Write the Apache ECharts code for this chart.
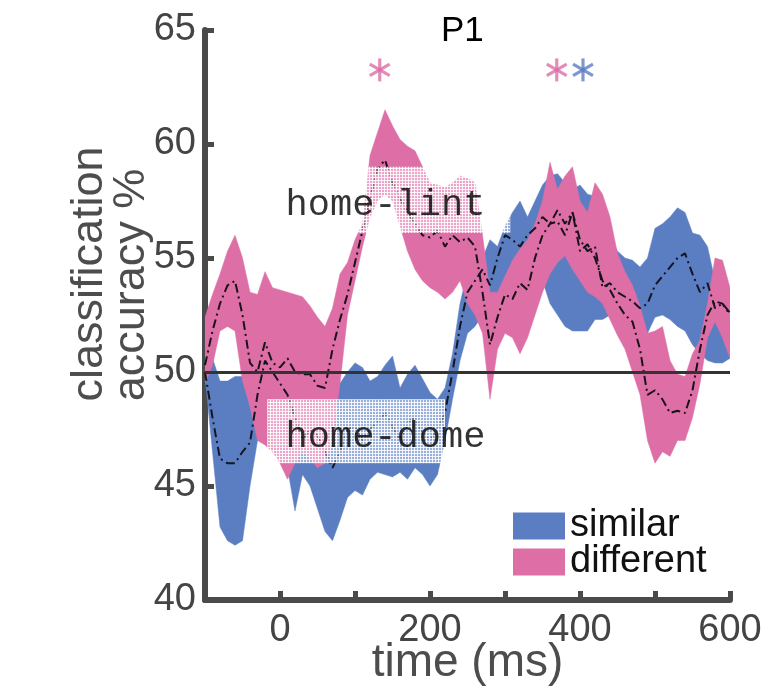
<!DOCTYPE html>
<html>
<head>
<meta charset="utf-8">
<script src="https://cdn.jsdelivr.net/npm/echarts/dist/echarts.min.js"></script>
<style>
html,body{margin:0;padding:0;background:#ffffff;}
#chart{width:766px;height:695px;}
</style>
</head>
<body>
<div id="chart"></div>
<script>
// ---------------- data ----------------
const times = [-100,-90,-80,-70,-60,-50,-40,-30,-20,-10,0,10,20,30,40,50,60,70,80,90,
  100,110,120,130,140,150,160,170,180,190,200,210,220,230,240,250,260,270,280,290,
  300,310,320,330,340,350,360,370,380,390,400,410,420,430,440,450,460,470,480,490,
  500,510,520,530,540,550,560,570,580,590,600];

// "different" (pink) band and mean
const diffHigh = [52.4,53.4,54.3,55.3,56.0,55.0,53.5,53.4,54.4,53.7,53.6,53.5,53.4,53.3,52.9,52.4,52.0,52.8,54.3,54.8,
  55.8,56.5,59.5,60.5,61.5,60.8,60.2,59.9,59.7,59.0,58.3,58.2,58.1,58.3,58.6,58.5,58.3,56.0,53.5,53.5,
  54.2,54.9,55.4,55.8,56.5,57.5,59.2,58.0,58.6,59.0,57.5,57.0,58.3,57.8,56.8,55.2,54.4,53.8,52.9,51.7,
  51.8,52.0,50.5,49.9,49.8,50.8,51.4,53.0,55.0,54.9,53.7];
const diffLow = [49.5,50.3,51.8,52.0,51.8,49.6,48.5,47.0,46.8,46.5,46.0,45.3,46.0,46.5,46.2,45.8,46.0,47.0,49.5,52.5,
  54.0,55.5,56.8,57.5,57.8,57.5,56.4,55.3,54.5,54.0,53.7,53.5,53.2,53.5,54.0,53.0,52.5,51.7,48.8,51.0,
  51.7,51.5,50.8,51.5,52.5,53.5,54.3,54.8,55.1,54.5,54.0,53.5,53.3,53.0,52.3,51.6,51.0,50.0,49.0,47.0,
  46.0,46.5,46.3,47.0,47.0,48.0,49.5,51.5,52.2,51.5,50.6];
const diffMean = [50.3,51.8,53.0,53.8,54.0,52.5,50.4,50.0,51.3,50.4,50.2,50.6,50.0,49.9,49.9,49.4,49.3,51.0,52.3,53.4,
  54.8,56.2,57.6,58.9,59.3,58.3,57.6,57.0,56.5,56.0,55.9,56.2,55.5,56.0,55.7,55.9,55.5,53.5,51.2,52.4,
  53.4,53.2,53.9,53.6,55.0,56.0,56.5,56.6,56.0,57.0,55.3,55.6,55.0,54.0,53.6,53.0,52.5,52.2,51.0,49.0,
  49.2,48.8,48.2,48.3,48.2,49.2,51.0,52.5,53.1,53.0,52.5];

// "similar" (blue) band and mean
const simHigh = [50.3,50.6,49.6,49.6,49.8,49.8,48.5,50.0,51.5,51.5,51.0,50.5,49.5,48.8,48.5,48.8,48.5,48.8,49.5,50.0,
  50.4,50.2,49.6,49.8,50.3,50.7,49.3,49.9,50.3,49.7,49.1,48.8,49.3,50.8,53.0,54.4,55.2,55.0,55.8,55.5,
  56.4,57.0,57.5,56.8,57.5,58.2,58.6,58.7,58.3,58.0,58.2,57.8,57.7,57.0,55.8,55.3,55.0,54.9,54.6,55.0,
  56.3,56.5,56.8,57.2,57.0,56.1,56.0,55.5,54.0,53.8,53.5];
const simLow = [49.8,46.5,43.2,42.6,42.4,42.6,45.0,47.0,47.0,46.8,46.5,45.8,43.9,45.5,45.0,44.0,43.0,42.6,43.5,44.5,
  44.8,44.6,45.3,45.6,45.5,45.4,45.6,45.3,45.8,45.5,45.0,45.5,47.0,48.8,50.5,51.7,52.0,52.5,53.0,53.3,
  53.0,53.5,54.0,54.5,54.0,54.0,53.0,52.5,52.0,51.8,51.8,51.8,52.3,52.3,52.5,52.0,51.8,52.2,51.7,51.7,
  52.4,52.5,52.3,52.0,51.8,51.2,50.8,50.5,50.4,50.4,50.6];
const simMean = [50.0,48.0,46.2,46.0,46.0,46.5,46.9,49.0,50.5,50.0,49.5,49.0,48.0,47.0,47.5,47.2,46.5,45.8,46.5,47.5,
  47.6,47.0,47.5,47.8,48.2,47.6,47.0,47.8,48.0,47.3,47.0,47.5,48.2,50.0,52.0,53.5,54.0,54.5,53.8,55.0,
  56.0,55.8,55.5,56.0,56.3,56.8,56.5,57.1,56.5,57.0,55.8,55.3,55.5,53.7,53.9,53.5,53.3,53.1,52.8,53.0,
  53.8,54.2,54.6,55.0,55.2,54.3,53.5,53.9,52.8,53.0,52.6];

// axis ticks / labels
const xMin = -100, xMax = 600, xStep = 100, xLabelStep = 200;
const yMin = 40, yMax = 65, yStep = 5;
const chanceLevel = 50;

// significance asterisks
const sigTimes  = [133, 369, 404];
const sigHeight = [63.25, 63.25, 63.25];
const sigGroup  = ['different', 'different', 'similar'];

// annotation boxes (data coordinates) and their labels
const boxNames = ['home-lint', 'home-dome'];
const boxX0 = [3, -17];
const boxX1 = [307, 220];
const boxY0 = [56.1, 46.0];
const boxY1 = [59.0, 48.8];
const boxTextX = [6.7, 6.7];
const boxTextY = [57.3, 47.15];

// ---------------- styling ----------------
const BLUE = '#5b7ec3';
const PINK = '#dd6fa6';
const AXIS = '#4a4a4a';
const FONT = "'Liberation Sans', Arial, Helvetica, sans-serif";
const MONO = "'Liberation Mono', 'DejaVu Sans Mono', monospace";

function zip(arr) { return times.map((t, i) => [t, arr[i]]); }

// dotted overlay pattern for the annotation boxes
const pat = document.createElement('canvas');
pat.width = 3; pat.height = 3;
const pc = pat.getContext('2d');
pc.fillStyle = 'rgba(255,255,255,0.38)';
pc.fillRect(0, 0, 3, 3);
pc.fillStyle = 'rgba(255,255,255,0.85)';
pc.fillRect(0, 0, 3, 1);
pc.fillRect(0, 0, 1, 3);

function bandSeries(name, low, high, color, z) {
  return {
    name: name, type: 'custom', z: z, silent: true, clip: true,
    color: color, itemStyle: { color: color },
    data: times.map((t, i) => [t, low[i], high[i]]),
    encode: { x: 0, y: [1, 2] },
    renderItem: function (params, api) {
      if (params.dataIndex !== 0) return null;
      const upper = [], lower = [];
      for (let i = 0; i < times.length; i++) {
        upper.push(api.coord([times[i], high[i]]));
        lower.push(api.coord([times[i], low[i]]));
      }
      return {
        type: 'polygon',
        shape: { points: upper.concat(lower.reverse()) },
        style: { fill: color, stroke: color, lineWidth: 0.5 }
      };
    }
  };
}

const sigData = [];
sigTimes.forEach((t, i) => {
  [0, 60, -60].forEach(r => {
    sigData.push({
      value: [t, sigHeight[i]],
      symbolRotate: r,
      itemStyle: { color: sigGroup[i] === 'similar' ? BLUE : PINK }
    });
  });
});

const chart = echarts.init(document.getElementById('chart'), null, { renderer: 'canvas' });

const option = {
  animation: false,
  backgroundColor: '#ffffff',
  title: {
    text: 'P1', left: 441, top: 14, padding: 0,
    textStyle: { fontFamily: FONT, fontSize: 35, fontWeight: 'normal', color: '#000' }
  },
  legend: {
    orient: 'vertical', left: 513, top: 507, padding: 0,
    itemWidth: 52, itemHeight: 27, itemGap: -2,
    icon: 'rect',
    data: [
      { name: 'similar', icon: 'rect', itemStyle: { color: BLUE, opacity: 1 } },
      { name: 'different', icon: 'rect', itemStyle: { color: PINK, opacity: 1 } }
    ],
    textStyle: { fontFamily: FONT, fontSize: 38, color: '#111', lineHeight: 27 },
    selectedMode: false
  },
  grid: { left: 205, right: 36, top: 30, bottom: 95, containLabel: false, outerBoundsMode: 'none' },
  xAxis: {
    type: 'value', min: xMin, max: xMax, interval: xStep,
    name: 'time (ms)', nameLocation: 'middle', nameGap: 40, nameMoveOverlap: false,
    nameTextStyle: { fontFamily: FONT, fontSize: 46, color: '#4d4d4d' },
    axisLine: { show: true, onZero: false, lineStyle: { color: AXIS, width: 6 } },
    axisTick: { show: true, inside: true, length: 9, lineStyle: { color: AXIS, width: 5 } },
    axisLabel: {
      fontFamily: FONT, fontSize: 38, color: '#444', margin: 12,
      formatter: v => (v % xLabelStep === 0 ? String(v) : '')
    },
    splitLine: { show: false }
  },
  yAxis: {
    type: 'value', min: yMin, max: yMax, interval: yStep,
    axisLine: { show: true, onZero: false, lineStyle: { color: AXIS, width: 6 } },
    axisTick: { show: true, inside: true, length: 9, lineStyle: { color: AXIS, width: 5 } },
    axisLabel: { fontFamily: FONT, fontSize: 38, color: '#444', margin: 9 },
    splitLine: { show: false }
  },
  graphic: [
    { type: 'text', x: 90, y: 274, rotation: Math.PI / 2, silent: true,
      style: { text: 'classification', font: "45px 'Liberation Sans', Arial, sans-serif",
        fill: '#4d4d4d', align: 'center', verticalAlign: 'middle' } },
    { type: 'text', x: 132, y: 285, rotation: Math.PI / 2, silent: true,
      style: { text: 'accuracy %', font: "45px 'Liberation Sans', Arial, sans-serif",
        fill: '#4d4d4d', align: 'center', verticalAlign: 'middle' } }
  ],
  series: [
    bandSeries('similar', simLow, simHigh, BLUE, 2),
    bandSeries('different', diffLow, diffHigh, PINK, 3),
    // means
    { name: 'simMean', type: 'line', data: zip(simMean), symbol: 'none', z: 4, silent: true,
      lineStyle: { color: '#15151f', width: 2, type: [9, 4, 2, 4] } },
    { name: 'diffMean', type: 'line', data: zip(diffMean), symbol: 'none', z: 4, silent: true,
      lineStyle: { color: '#1a1018', width: 2, type: [9, 4, 2, 4] },
      markLine: {
        silent: true, symbol: 'none', z: 5, animation: false,
        label: { show: false },
        lineStyle: { color: '#333', width: 3, type: 'solid' },
        data: [{ yAxis: chanceLevel }]
      } },
    // annotation boxes + labels
    { name: 'labels', type: 'scatter', z: 12, silent: true,
      data: boxNames.map((n, i) => ({ name: n, value: [boxTextX[i], boxTextY[i]] })),
      symbolSize: 1, itemStyle: { color: 'rgba(0,0,0,0)' },
      label: { show: true, position: 'right', distance: 0, formatter: '{b}',
        fontFamily: MONO, fontSize: 37, color: '#000' },
      markArea: {
        silent: true, z: 10,
        itemStyle: { color: { image: pat, repeat: 'repeat' }, borderWidth: 0 },
        data: boxNames.map((n, i) => [{ coord: [boxX0[i], boxY1[i]] }, { coord: [boxX1[i], boxY0[i]] }])
      } },
    // significance asterisks
    { name: 'sig', type: 'scatter', z: 12, silent: true, data: sigData,
      symbol: 'rect', symbolSize: [3.2, 23] }
  ]
};

chart.setOption(option);
</script>
</body>
</html>
